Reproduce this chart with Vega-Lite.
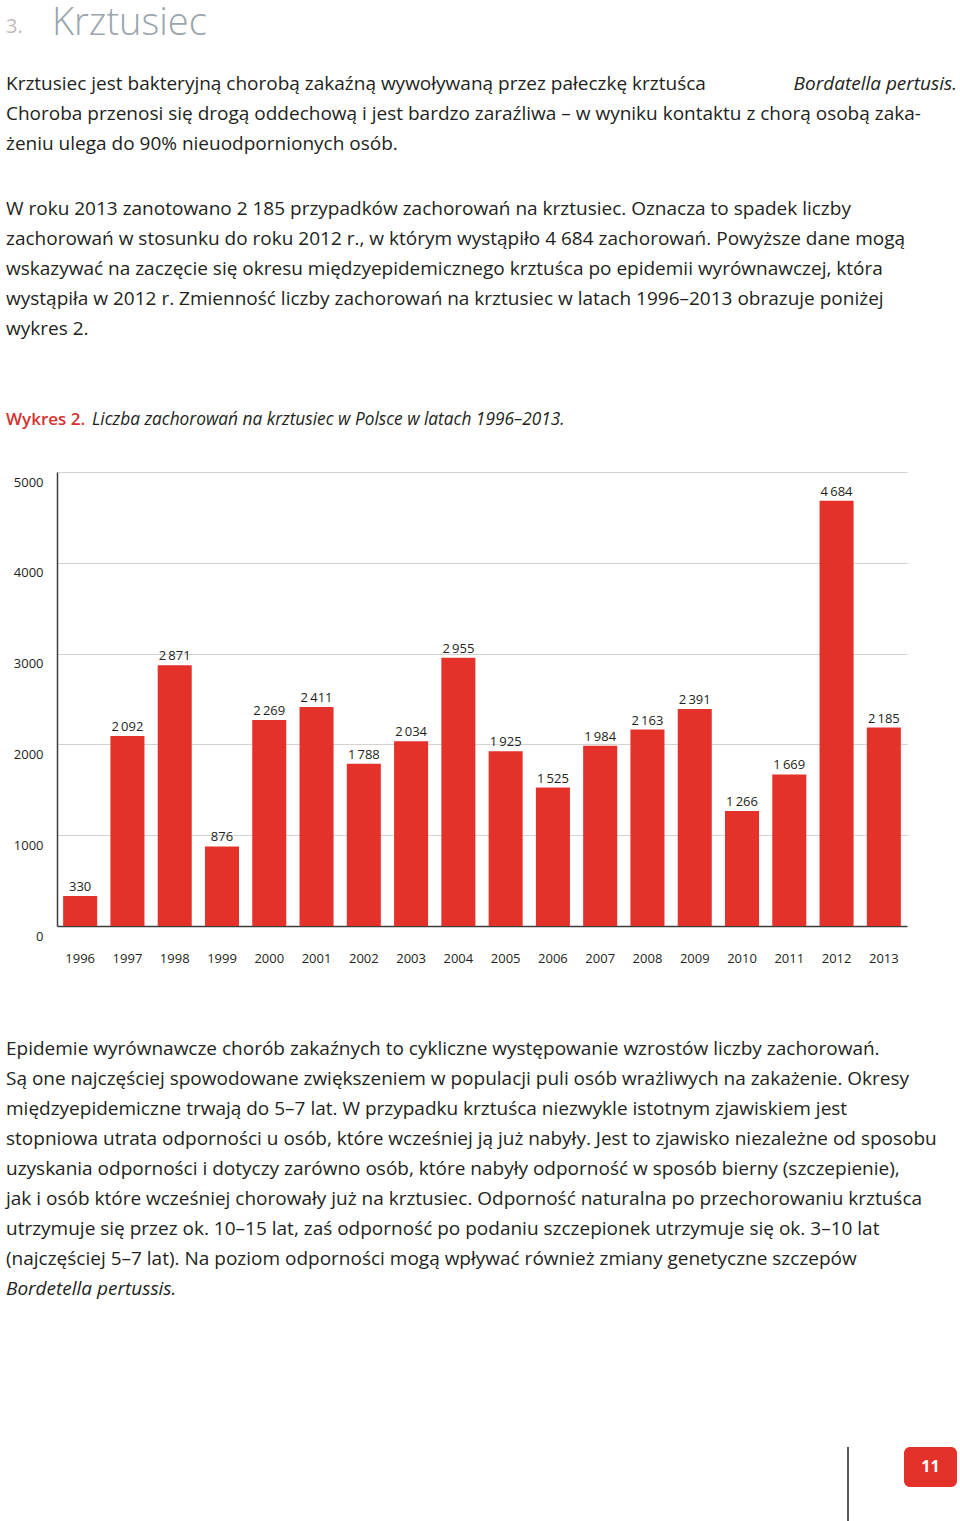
{
  "$schema": "https://vega.github.io/schema/vega-lite/v6.json",
  "background": "white",
  "padding": {"left": 6, "top": 5, "right": 0, "bottom": 0},
  "spacing": 35,
  "config": {
    "view": {"stroke": null},
    "font": "Open Sans",
    "locale": {"number": {"decimal": ",", "thousands": "\u2009", "grouping": [3], "currency": ["", " zł"]}}
  },
  "datasets": {
    "head": [{"line": 0, "num": "3.", "title": "Krztusiec"}],
    "p1": [
      {"line": 2, "text": "Krztusiec jest bakteryjną chorobą zakaźną wywoływaną przez pałeczkę krztuśca"},
      {"line": 3, "text": "Choroba przenosi się drogą oddechową i jest bardzo zaraźliwa – w wyniku kontaktu z chorą osobą zaka-"},
      {"line": 4, "text": "żeniu ulega do 90% nieuodpornionych osób."}
    ],
    "p1i": [{"line": 2, "text": "Bordatella pertusis."}],
    "p2": [
      {"line": 0, "text": "W roku 2013 zanotowano 2 185 przypadków zachorowań na krztusiec. Oznacza to spadek liczby"},
      {"line": 1, "text": "zachorowań w stosunku do roku 2012 r., w którym wystąpiło 4 684 zachorowań. Powyższe dane mogą"},
      {"line": 2, "text": "wskazywać na zaczęcie się okresu międzyepidemicznego krztuśca po epidemii wyrównawczej, która"},
      {"line": 3, "text": "wystąpiła w 2012 r. Zmienność liczby zachorowań na krztusiec w latach 1996–2013 obrazuje poniżej"},
      {"line": 4, "text": "wykres 2."}
    ],
    "caption": [{"line": 1, "label": "Wykres 2.", "text": "Liczba zachorowań na krztusiec w Polsce w latach 1996–2013."}],
    "cases": [
      {"year": "1996", "cases": 330},
      {"year": "1997", "cases": 2092},
      {"year": "1998", "cases": 2871},
      {"year": "1999", "cases": 876},
      {"year": "2000", "cases": 2269},
      {"year": "2001", "cases": 2411},
      {"year": "2002", "cases": 1788},
      {"year": "2003", "cases": 2034},
      {"year": "2004", "cases": 2955},
      {"year": "2005", "cases": 1925},
      {"year": "2006", "cases": 1525},
      {"year": "2007", "cases": 1984},
      {"year": "2008", "cases": 2163},
      {"year": "2009", "cases": 2391},
      {"year": "2010", "cases": 1266},
      {"year": "2011", "cases": 1669},
      {"year": "2012", "cases": 4684},
      {"year": "2013", "cases": 2185}
    ],
    "p3": [
      {"line": 0, "text": "Epidemie wyrównawcze chorób zakaźnych to cykliczne występowanie wzrostów liczby zachorowań."},
      {"line": 1, "text": "Są one najczęściej spowodowane zwiększeniem w populacji puli osób wrażliwych na zakażenie. Okresy"},
      {"line": 2, "text": "międzyepidemiczne trwają do 5–7 lat. W przypadku krztuśca niezwykle istotnym zjawiskiem jest"},
      {"line": 3, "text": "stopniowa utrata odporności u osób, które wcześniej ją już nabyły. Jest to zjawisko niezależne od sposobu"},
      {"line": 4, "text": "uzyskania odporności i dotyczy zarówno osób, które nabyły odporność w sposób bierny (szczepienie),"},
      {"line": 5, "text": "jak i osób które wcześniej chorowały już na krztusiec. Odporność naturalna po przechorowaniu krztuśca"},
      {"line": 6, "text": "utrzymuje się przez ok. 10–15 lat, zaś odporność po podaniu szczepionek utrzymuje się ok. 3–10 lat"},
      {"line": 7, "text": "(najczęściej 5–7 lat). Na poziom odporności mogą wpływać również zmiany genetyczne szczepów"}
    ],
    "p3i": [{"line": 8, "text": "Bordetella pertussis."}],
    "page": [{"page": "11"}]
  },
  "vconcat": [
    {
      "width": 900,
      "height": {"step": 30},
      "encoding": {
        "y": {"field": "line", "type": "ordinal", "axis": null, "scale": {"domain": [0, 1, 2, 3, 4]}}
      },
      "layer": [
        {
          "data": {"name": "head"},
          "mark": {"type": "text", "align": "left", "baseline": "alphabetic", "dy": 11, "fontSize": 20, "color": "#c4b8ba"},
          "encoding": {"x": {"value": -51}, "text": {"field": "num"}}
        },
        {
          "data": {"name": "head"},
          "mark": {"type": "text", "align": "left", "baseline": "alphabetic", "dy": 13, "fontSize": 38, "fontWeight": 300, "color": "#9aa5ad"},
          "encoding": {"x": {"value": -5}, "text": {"field": "title"}}
        },
        {
          "data": {"name": "p1"},
          "mark": {"type": "text", "align": "left", "baseline": "alphabetic", "dy": 8, "fontSize": 19, "color": "#231f20"},
          "encoding": {"x": {"value": -51}, "text": {"field": "text"}}
        },
        {
          "data": {"name": "p1i"},
          "mark": {"type": "text", "align": "right", "baseline": "alphabetic", "dy": 8, "fontSize": 19, "fontStyle": "italic", "color": "#231f20"},
          "encoding": {"x": {"value": 900}, "text": {"field": "text"}}
        }
      ]
    },
    {
      "width": 900,
      "height": {"step": 30},
      "data": {"name": "p2"},
      "mark": {"type": "text", "align": "left", "baseline": "alphabetic", "dy": 8, "fontSize": 19, "color": "#231f20"},
      "encoding": {
        "x": {"value": -51},
        "y": {"field": "line", "type": "ordinal", "axis": null},
        "text": {"field": "text"}
      }
    },
    {
      "width": 900,
      "height": {"step": 30},
      "data": {"name": "caption"},
      "encoding": {
        "y": {"field": "line", "type": "ordinal", "axis": null, "scale": {"domain": [0, 1]}}
      },
      "layer": [
        {
          "mark": {"type": "text", "align": "left", "baseline": "alphabetic", "dy": 3, "fontSize": 17, "fontWeight": 600, "color": "#d5322f"},
          "encoding": {"x": {"value": -51}, "text": {"field": "label"}}
        },
        {
          "mark": {"type": "text", "align": "left", "baseline": "alphabetic", "dy": 3, "fontSize": 17.3, "fontStyle": "italic", "color": "#231f20"},
          "encoding": {"x": {"value": 35}, "text": {"field": "text"}}
        }
      ]
    },
    {
      "width": 850,
      "height": 454,
      "data": {"name": "cases"},
      "encoding": {
        "x": {
          "field": "year", "type": "ordinal",
          "scale": {"paddingInner": 0.28, "paddingOuter": 0.13},
          "axis": {
            "title": null, "labelAngle": 0, "ticks": false, "domainColor": "#3c3c3c", "domainWidth": 1.5,
            "labelPadding": 26, "labelFontSize": 13, "labelColor": "#231f20", "labelFont": "Open Sans", "minExtent": 71
          }
        },
        "y": {
          "field": "cases", "type": "quantitative",
          "scale": {"domain": [0, 5000], "nice": false},
          "axis": {
            "title": null, "values": [0, 1000, 2000, 3000, 4000, 5000], "format": "d",
            "grid": true, "gridColor": "#d2d2d2", "gridWidth": 1, "ticks": false,
            "domainColor": "#3c3c3c", "domainWidth": 1.5,
            "labelPadding": 14, "labelBaseline": "middle", "labelOffset": 10, "labelFlush": false,
            "labelFontSize": 13, "labelColor": "#231f20", "labelFont": "Open Sans", "minExtent": 51
          }
        }
      },
      "layer": [
        {"mark": {"type": "bar", "color": "#e4322b"}},
        {
          "mark": {"type": "text", "baseline": "alphabetic", "dy": -5, "fontSize": 13, "color": "#231f20"},
          "encoding": {"text": {"field": "cases", "type": "quantitative", "format": ",d"}}
        }
      ]
    },
    {
      "width": 900,
      "height": {"step": 30},
      "encoding": {
        "y": {"field": "line", "type": "ordinal", "axis": null, "scale": {"domain": [0, 1, 2, 3, 4, 5, 6, 7, 8]}}
      },
      "layer": [
        {
          "data": {"name": "p3"},
          "mark": {"type": "text", "align": "left", "baseline": "alphabetic", "dy": 8, "fontSize": 19, "color": "#231f20"},
          "encoding": {"x": {"value": -51}, "text": {"field": "text"}}
        },
        {
          "data": {"name": "p3i"},
          "mark": {"type": "text", "align": "left", "baseline": "alphabetic", "dy": 8, "fontSize": 19, "fontStyle": "italic", "color": "#231f20"},
          "encoding": {"x": {"value": -51}, "text": {"field": "text"}}
        }
      ]
    },
    {
      "width": 900,
      "height": 187,
      "data": {"name": "page"},
      "layer": [
        {
          "mark": {"type": "rule", "color": "#231f20", "strokeWidth": 1.5},
          "encoding": {"x": {"value": 791}, "y": {"value": 110}, "y2": {"value": 187}}
        },
        {
          "mark": {"type": "rect", "color": "#e4322b", "cornerRadius": 6},
          "encoding": {"x": {"value": 847}, "x2": {"value": 900}, "y": {"value": 110}, "y2": {"value": 150}}
        },
        {
          "mark": {"type": "text", "fontSize": 16, "fontWeight": 700, "color": "white"},
          "encoding": {"x": {"value": 873.5}, "y": {"value": 130}, "text": {"field": "page"}}
        }
      ]
    }
  ]
}
